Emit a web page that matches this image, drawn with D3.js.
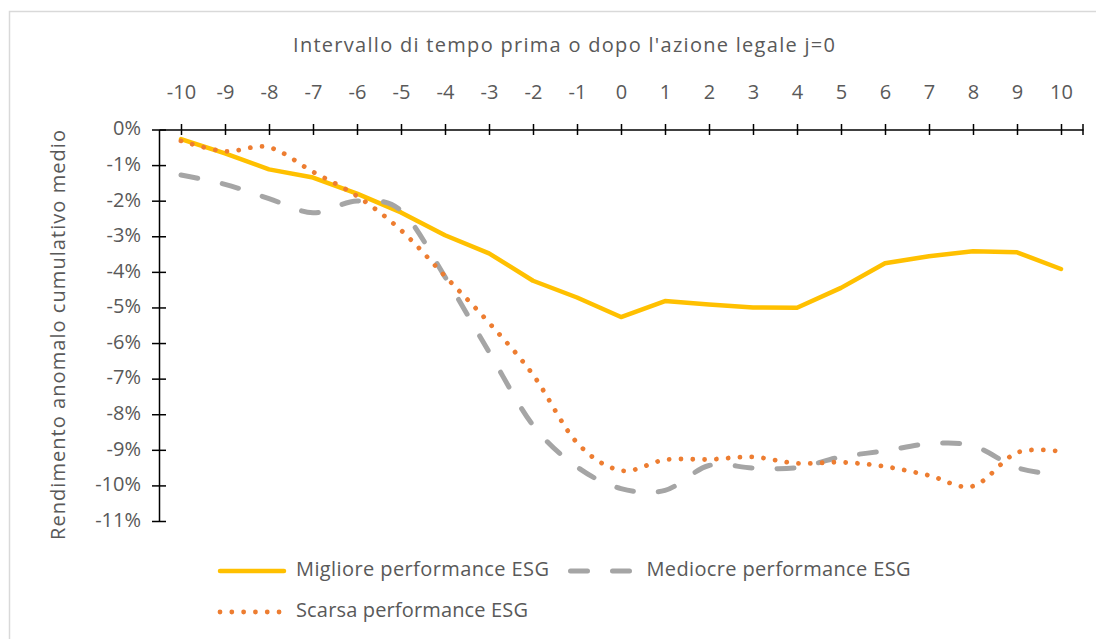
<!DOCTYPE html>
<html>
<head>
<meta charset="utf-8">
<script src="https://cdn.jsdelivr.net/npm/d3@7/dist/d3.min.js"></script>
<style>
  html, body { margin: 0; padding: 0; background: #fff; }
  svg { display: block; }
  text { font-family: "Open Sans", "Noto Sans", sans-serif; fill: #595959; }
</style>
</head>
<body>
<svg id="chart" width="1096" height="639"></svg>
<script>
const categories = [-10,-9,-8,-7,-6,-5,-4,-3,-2,-1,0,1,2,3,4,5,6,7,8,9,10];
const migliore = [-0.27,-0.67,-1.12,-1.35,-1.80,-2.33,-2.97,-3.48,-4.25,-4.72,-5.27,-4.82,-4.92,-5.00,-5.01,-4.45,-3.76,-3.56,-3.42,-3.45,-3.92];
const mediocre = [-1.28,-1.54,-1.94,-2.34,-2.01,-2.28,-4.14,-6.25,-8.31,-9.48,-10.09,-10.14,-9.44,-9.51,-9.50,-9.20,-9.03,-8.83,-8.89,-9.50,-9.72];
const scarsa = [-0.32,-0.61,-0.50,-1.19,-1.87,-2.83,-4.12,-5.43,-6.89,-8.80,-9.58,-9.28,-9.27,-9.20,-9.38,-9.35,-9.47,-9.72,-10.02,-9.08,-9.05];
const yTicks = [0,-1,-2,-3,-4,-5,-6,-7,-8,-9,-10,-11];
const seriesNames = ["Migliore performance ESG","Mediocre performance ESG","Scarsa performance ESG"];
const xTitle = "Intervallo di tempo prima o dopo l'azione legale j=0";
const yTitle = "Rendimento anomalo cumulativo medio";

const svg = d3.select("#chart");
const FS = 20;

// outer border
svg.append("rect").attr("x", 9.5).attr("y", 11.5).attr("width", 1200).attr("height", 800)
  .attr("fill", "none").attr("stroke", "#d9d9d9").attr("stroke-width", 1.5);

const x = d3.scalePoint().domain(categories).range([159, 1083]).padding(0.5);
const y = d3.scaleLinear().domain([-11, 0]).range([521, 129.5]);

const styles = [
  {color: "#FFC000", width: 4.5, dash: null, curve: d3.curveLinear, cap: "round"},
  {color: "#A5A5A5", width: 5, dash: "17 25", curve: d3.curveCatmullRom.alpha(0), cap: "round"},
  {color: "#ED7D31", width: 4.8, dash: "0.01 11.8", curve: d3.curveCatmullRom.alpha(0), cap: "round"}
];
const data = [migliore, mediocre, scarsa];

// x axis (top)
const gx = svg.append("g").attr("transform", `translate(0,${y(0)})`)
  .call(d3.axisTop(x).tickSize(5).tickPadding(22).tickFormat(d => String(d)).tickSizeOuter(0));
gx.select(".domain").attr("stroke", "#000").attr("stroke-width", 1.5);
gx.selectAll(".tick line").attr("stroke", "#000").attr("stroke-width", 1.5).attr("y1", 5.5).attr("y2", -5.5);
gx.selectAll(".tick text").attr("font-size", FS).attr("fill", "#595959").attr("font-family", null)
  .attr("dy", null).attr("y", -36).attr("dominant-baseline", "middle");
gx.append("line").attr("x1", x.range()[1]).attr("x2", x.range()[1]).attr("y1", -5.5).attr("y2", 5.5)
  .attr("stroke", "#000").attr("stroke-width", 1.5);

// y axis (left)
const gy = svg.append("g").attr("transform", `translate(159,0)`)
  .call(d3.axisLeft(y).tickValues(yTicks).tickSize(7).tickPadding(12).tickFormat(d => String(d) + "%").tickSizeOuter(0));
gy.select(".domain").attr("stroke", "#000").attr("stroke-width", 1.5);
gy.selectAll(".tick line").attr("stroke", "#000").attr("stroke-width", 1.5).attr("x1", 7).attr("x2", -7);
gy.selectAll(".tick text").attr("font-size", FS).attr("fill", "#595959").attr("font-family", null)
  .attr("x", -18).attr("dy", null).attr("dominant-baseline", "middle");

// titles
svg.append("text").attr("x", 564).attr("y", 47).attr("text-anchor", "middle")
  .attr("dominant-baseline", "middle").attr("font-size", FS)
  .attr("textLength", 542).attr("lengthAdjust", "spacing").text(xTitle);
svg.append("text").attr("transform", "translate(60,335) rotate(-90)").attr("text-anchor", "middle")
  .attr("dominant-baseline", "middle").attr("font-size", FS)
  .attr("textLength", 410).attr("lengthAdjust", "spacing").text(yTitle);

// lines
const plot = svg.append("g");
data.forEach((vals, i) => {
  const st = styles[i];
  const line = d3.line().x((d, j) => x(categories[j])).y(d => y(d)).curve(st.curve);
  const p = plot.append("path").datum(vals).attr("d", line)
    .attr("fill", "none").attr("stroke", st.color).attr("stroke-width", st.width)
    .attr("stroke-linecap", st.cap).attr("stroke-linejoin", "round");
  if (st.dash) p.attr("stroke-dasharray", st.dash);
});

// legend
const legendItems = [
  {i: 0, x0: 220, y0: 571, w: 253},
  {i: 1, x0: 570.5, y0: 571, w: 264},
  {i: 2, x0: 220, y0: 612, w: 232}
];
legendItems.forEach(it => {
  const st = styles[it.i];
  const g = svg.append("g");
  const l = g.append("line").attr("x1", it.x0).attr("x2", it.x0 + 64).attr("y1", it.y0).attr("y2", it.y0)
    .attr("stroke", st.color).attr("stroke-width", st.width).attr("stroke-linecap", st.cap);
  if (st.dash) l.attr("stroke-dasharray", st.dash);
  g.append("text").attr("x", it.x0 + 76).attr("y", it.y0).attr("dominant-baseline", "middle")
    .attr("font-size", FS).attr("textLength", it.w).attr("lengthAdjust", "spacing").text(seriesNames[it.i]);
});
</script>
</body>
</html>
